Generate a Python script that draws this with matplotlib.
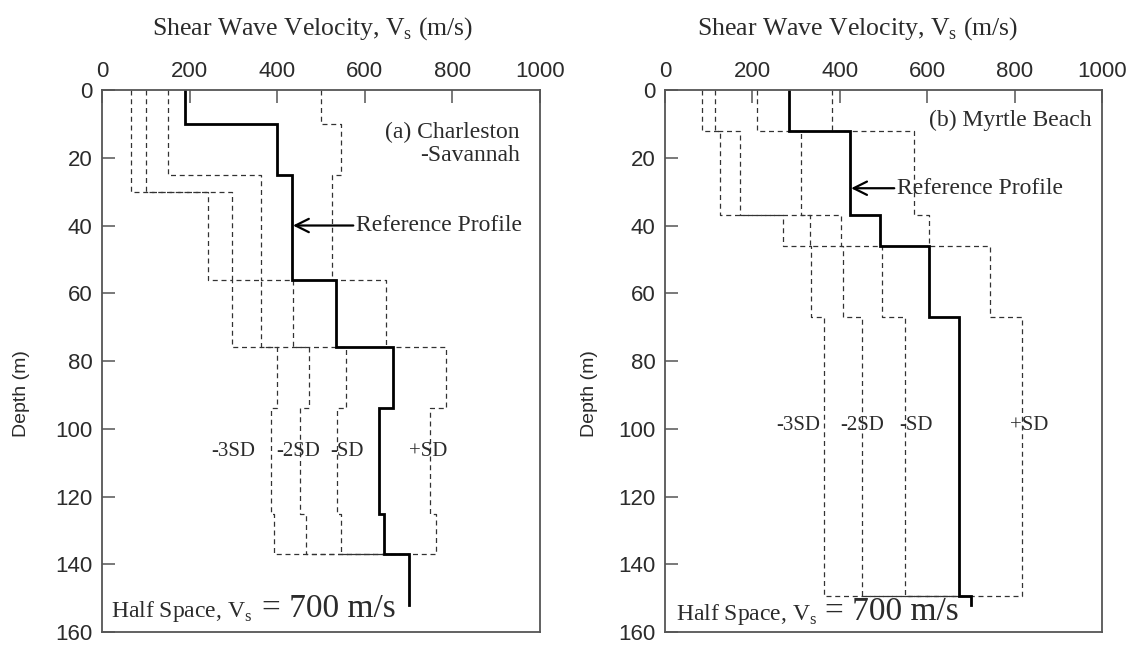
import matplotlib
matplotlib.use("Agg")
import matplotlib.pyplot as plt

# (a) Charleston-Savannah: layer tops/bottoms (m) and Vs (m/s)
cs_ref_depth = [0, 10, 25, 56, 76, 94, 125, 137, 152]
cs_ref_vs = [190, 400, 433, 534, 664, 633, 644, 700]
cs_m3_depth = [0, 30, 56, 76, 94, 125, 137]
cs_m3_vs = [67, 243, 296, 400, 385, 392]
cs_m2_depth = [0, 30, 56, 76, 94, 125, 137]
cs_m2_vs = [100, 296, 362, 473, 451, 465]
cs_m1_depth = [0, 25, 56, 76, 94, 125, 137]
cs_m1_vs = [151, 362, 436, 558, 537, 545]
cs_p1_depth = [0, 10, 25, 56, 76, 94, 125, 137]
cs_p1_vs = [501, 546, 526, 648, 786, 748, 763]

# (b) Myrtle Beach
mb_ref_depth = [0, 12, 37, 46, 67, 149.4, 152]
mb_ref_vs = [284, 423, 493, 605, 672, 700]
mb_m3_depth = [0, 12, 37, 46, 67, 149.4]
mb_m3_vs = [84, 126, 271, 333, 364]
mb_m2_depth = [0, 12, 37, 46, 67, 149.4]
mb_m2_vs = [114, 171, 332, 408, 450]
mb_m1_depth = [0, 12, 37, 46, 67, 149.4]
mb_m1_vs = [210, 311, 402, 497, 549]
mb_p1_depth = [0, 12, 37, 46, 67, 149.4]
mb_p1_vs = [383, 569, 604, 744, 818]

half_space_vs = 700
sd_labels = ["-3SD", "-2SD", "-SD", "+SD"]

SERIF = "Liberation Serif"
SANS = "Liberation Sans"
TXT = "#2b2b2b"


def profile_xy(depths, vs, tail=None):
    xs, ys = [], []
    for i, v in enumerate(vs):
        xs += [v, v]
        ys += [depths[i], depths[i + 1]]
    if tail is not None:
        xs.append(tail)
        ys.append(depths[-1])
    return xs, ys


def setup_axes(ax):
    ax.set_xlim(0, 1000)
    ax.set_ylim(160, 0)
    ax.xaxis.tick_top()
    ax.set_xticks([0, 200, 400, 600, 800, 1000])
    ax.set_yticks([0, 20, 40, 60, 80, 100, 120, 140, 160])
    ax.tick_params(axis="both", direction="in", length=9, width=1.1,
                   color="#555555", labelsize=16, labelcolor=TXT)
    ax.tick_params(axis="x", pad=6)
    ax.tick_params(axis="y", pad=7)
    for lab in ax.get_xticklabels() + ax.get_yticklabels():
        lab.set_family(SANS)
    for sp in ax.spines.values():
        sp.set_color("#555555")
        sp.set_linewidth(1.3)


fig = plt.figure(figsize=(11.3, 6.45), dpi=100)
ax1 = fig.add_axes([0.0903, 0.02, 0.3876, 0.8405])
ax2 = fig.add_axes([0.5885, 0.02, 0.3867, 0.8405])

dash = dict(color="#333333", lw=0.9, linestyle=(0, (4, 3)))
solid = dict(color="black", lw=2.0, solid_joinstyle="miter")

panels = [
    (ax1, (cs_ref_depth, cs_ref_vs),
     [(cs_m3_depth, cs_m3_vs), (cs_m2_depth, cs_m2_vs),
      (cs_m1_depth, cs_m1_vs), (cs_p1_depth, cs_p1_vs)]),
    (ax2, (mb_ref_depth, mb_ref_vs),
     [(mb_m3_depth, mb_m3_vs), (mb_m2_depth, mb_m2_vs),
      (mb_m1_depth, mb_m1_vs), (mb_p1_depth, mb_p1_vs)]),
]

for ax, ref, sds in panels:
    setup_axes(ax)
    for d, v in sds:
        x, y = profile_xy(d, v, tail=half_space_vs)
        ax.plot(x, y, **dash)
    x, y = profile_xy(*ref)
    ax.plot(x, y, **solid)

# axis titles
for ax, xc, yl in [(ax1, 0.48, -0.183), (ax2, 0.44, -0.172)]:
    ax.text(xc, 1.113, r"Shear Wave Velocity, V$_\mathregular{s}$ (m/s)",
            transform=ax.transAxes, ha="center", va="center",
            family=SERIF, fontsize=18.5, color=TXT)
    ax.text(yl, 0.44, "Depth (m)", transform=ax.transAxes, rotation=90,
            ha="center", va="center", family=SANS, fontsize=14, color=TXT)

# panel labels
ax1.text(954, 16, "(a) Charleston\n-Savannah", ha="right", va="center",
         multialignment="right", family=SERIF, fontsize=17, color=TXT,
         linespacing=1.15)
ax2.text(976, 9, "(b) Myrtle Beach", ha="right", va="center",
         family=SERIF, fontsize=17, color=TXT)

# reference profile arrows
arrow = dict(arrowstyle="->", color="black", lw=1.6, mutation_scale=24,
             shrinkA=0, shrinkB=0)
ax1.annotate("Reference Profile", xy=(436, 40), xytext=(580, 40),
             ha="left", va="center", family=SERIF, fontsize=17, color=TXT,
             arrowprops=arrow)
ax2.annotate("Reference Profile", xy=(426, 29), xytext=(531, 29),
             ha="left", va="center", family=SERIF, fontsize=17, color=TXT,
             arrowprops=arrow)

# SD labels
cs_sd_x = [300, 447, 560, 745]
mb_sd_x = [306, 452, 575, 833]
for ax, xs, yd in [(ax1, cs_sd_x, 106.6), (ax2, mb_sd_x, 99)]:
    for xv, lab in zip(xs, sd_labels):
        ax.text(xv, yd, lab, ha="center", va="center", family=SERIF,
                fontsize=15, color=TXT)

# half space notes
for ax, x0, x1, yb in [(ax1, 20, 366, 155.5), (ax2, 25, 366, 156.5)]:
    ax.text(x0, yb, r"Half Space, V$_\mathregular{s}$", ha="left",
            va="baseline", family=SERIF, fontsize=17, color=TXT)
    ax.text(x1, yb, "= 700 m/s", ha="left", va="baseline", family=SERIF,
            fontsize=24, color=TXT)

fig.savefig("out.png", dpi=100)
